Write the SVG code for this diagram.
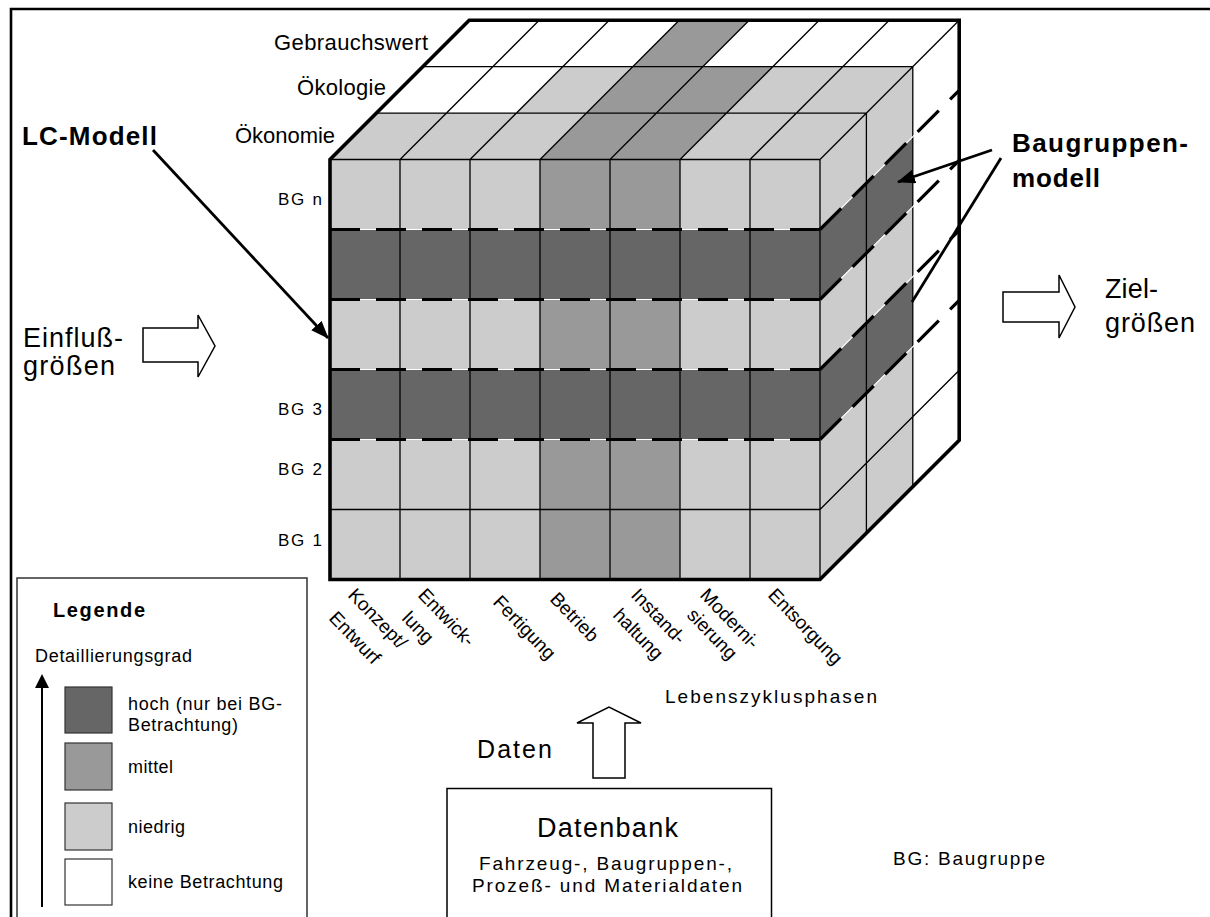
<svg xmlns="http://www.w3.org/2000/svg" width="1210" height="917" viewBox="0 0 1210 917">
  <style>
    .t { font-family: "Liberation Sans", Arial, Helvetica, sans-serif; fill: #000; }
    .b { font-weight: bold; }
    .thin { stroke: #000; stroke-width: 1.3; fill: none; }
    .dash { stroke: #000; stroke-width: 3.2; stroke-dasharray: 30 16; fill: none; }
    .gap { stroke: #fff; stroke-width: 1.2; fill: none; }
    .light { fill: #cccccc; }
    .mid { fill: #999999; }
    .dark { fill: #666666; }
    .white { fill: #ffffff; }
    .swatch { stroke: #333; stroke-width: 1.2; }
    .hollow { fill: #fff; stroke: #000; stroke-width: 1.5; stroke-linejoin: miter; }
    .ptr { stroke: #000; stroke-width: 2.8; fill: none; }
  </style>
  <defs>
    <marker id="head" markerUnits="userSpaceOnUse" markerWidth="18" markerHeight="14" viewBox="0 0 18 14" refX="17" refY="7" orient="auto">
      <path d="M0,0 L18,7 L0,14 z" fill="#000"/>
    </marker>
  </defs>

  <rect width="1210" height="917" fill="#fff"/>

  <!-- page frame -->
  <path d="M11,917 V9 H1210" fill="none" stroke="#000" stroke-width="2.6"/>

  <!-- the LC cube: front face = Ökonomie layer, two further layers behind -->
  <g id="cube">
    <!-- front face -->
    <rect class="light" x="330" y="159.5" width="490" height="420"/>
    <rect class="mid" x="540" y="159.5" width="140" height="420"/>
    <rect class="dark" x="330" y="229.5" width="490" height="70"/>
    <rect class="dark" x="330" y="369.5" width="490" height="70"/>

    <!-- top strip, Ökonomie -->
    <polygon class="light" points="330,159.5 540,159.5 586.4,113.1 376.4,113.1"/>
    <polygon class="mid" points="540,159.5 680,159.5 726.4,113.1 586.4,113.1"/>
    <polygon class="light" points="680,159.5 820,159.5 866.4,113.1 726.4,113.1"/>
    <!-- top strip, Ökologie -->
    <polygon class="white" points="376.4,113.1 516.4,113.1 562.8,66.7 422.8,66.7"/>
    <polygon class="light" points="516.4,113.1 586.4,113.1 632.8,66.7 562.8,66.7"/>
    <polygon class="mid" points="586.4,113.1 726.4,113.1 772.8,66.7 632.8,66.7"/>
    <polygon class="light" points="726.4,113.1 866.4,113.1 912.8,66.7 772.8,66.7"/>
    <!-- top strip, Gebrauchswert -->
    <polygon class="white" points="422.8,66.7 632.8,66.7 679.2,20.3 469.2,20.3"/>
    <polygon class="mid" points="632.8,66.7 702.8,66.7 749.2,20.3 679.2,20.3"/>
    <polygon class="white" points="702.8,66.7 912.8,66.7 959.2,20.3 749.2,20.3"/>

    <!-- side faces -->
    <polygon class="light" points="820,159.5 866.4,113.1 866.4,533.1 820,579.5"/>
    <polygon class="light" points="866.4,113.1 912.8,66.7 912.8,486.7 866.4,533.1"/>
    <polygon class="white" points="912.8,66.7 959.2,20.3 959.2,440.3 912.8,486.7"/>
    <polygon class="dark" points="820,229.5 912.8,136.7 912.8,206.7 820,299.5"/>
    <polygon class="dark" points="820,369.5 912.8,276.7 912.8,346.7 820,439.5"/>

    <!-- grid lines -->
    <path class="thin" d="M400,159.5 V579.5 M470,159.5 V579.5 M540,159.5 V579.5 M610,159.5 V579.5 M680,159.5 V579.5 M750,159.5 V579.5 M820,159.5 V579.5
      M330,159.5 H820 M330,509.5 H820
      M400,159.5 l139.2,-139.2 M470,159.5 l139.2,-139.2 M540,159.5 l139.2,-139.2 M610,159.5 l139.2,-139.2 M680,159.5 l139.2,-139.2 M750,159.5 l139.2,-139.2 M820,159.5 l139.2,-139.2
      M376.4,113.1 H866.4 M422.8,66.7 H912.8
      M866.4,113.1 V533.1 M912.8,66.7 V486.7
      M820,509.5 L959.2,370.3"/>

    <!-- BG band borders: white hairline under black dashes -->
    <path class="gap" d="M330,229.5 H820 L959.2,90.3 M330,299.5 H820 L959.2,160.3 M330,369.5 H820 L959.2,230.3 M330,439.5 H820 L959.2,300.3"/>
    <path class="dash" d="M330,229.5 H820 M330,299.5 H820 M330,369.5 H820 M330,439.5 H820"/>
    <path class="dash" d="M820,229.5 L959.2,90.3 M820,299.5 L959.2,160.3 M820,369.5 L959.2,230.3 M820,439.5 L959.2,300.3"/>

    <!-- outline -->
    <path d="M330,579.5 V159.5 L469.2,20.3 H959.2 V440.3 L820,579.5 Z" fill="none" stroke="#000" stroke-width="3.6" stroke-linejoin="miter"/>
  </g>

  <!-- axis labels -->
  <g id="layer-labels" class="t" font-size="22">
    <text x="274" y="50" textLength="154" lengthAdjust="spacing">Gebrauchswert</text>
    <text x="297" y="95" textLength="89" lengthAdjust="spacing">Ökologie</text>
    <text x="235" y="143" textLength="100" lengthAdjust="spacing">Ökonomie</text>
  </g>
  <g id="bg-labels" class="t" font-size="17">
    <text x="278" y="205" textLength="44" lengthAdjust="spacing">BG n</text>
    <text x="278" y="415" textLength="44" lengthAdjust="spacing">BG 3</text>
    <text x="278" y="475" textLength="44" lengthAdjust="spacing">BG 2</text>
    <text x="278" y="546" textLength="44" lengthAdjust="spacing">BG 1</text>
  </g>
  <g id="phase-labels" class="t" font-size="19">
    <text transform="translate(347,596) rotate(46)">Konzept/</text>
    <text transform="translate(328,619) rotate(46)">Entwurf</text>
    <text transform="translate(417,596) rotate(46)">Entwick-</text>
    <text transform="translate(401,619) rotate(46)">lung</text>
    <text transform="translate(492,603) rotate(46)">Fertigung</text>
    <text transform="translate(549,600) rotate(46)">Betrieb</text>
    <text transform="translate(630,596) rotate(46)">Instand-</text>
    <text transform="translate(612,616) rotate(46)">haltung</text>
    <text transform="translate(699,596) rotate(46)">Moderni-</text>
    <text transform="translate(686,616) rotate(46)">sierung</text>
    <text transform="translate(767,596) rotate(46)">Entsorgung</text>
    <text x="665" y="703" textLength="212" lengthAdjust="spacing">Lebenszyklusphasen</text>
  </g>

  <!-- callouts -->
  <g id="lc-modell">
    <text class="t b" font-size="26" x="22" y="145" textLength="135" lengthAdjust="spacing">LC-Modell</text>
  </g>
  <g id="baugruppenmodell">
    <text class="t b" font-size="26" x="1012" y="152" textLength="176" lengthAdjust="spacing">Baugruppen-</text>
    <text class="t b" font-size="26" x="1012" y="187" textLength="88" lengthAdjust="spacing">modell</text>
  </g>

  <!-- inputs / outputs -->
  <g id="einflussgroessen">
    <path class="hollow" d="M143,328 H198 V315 L215,346 L198,377 V362 H143 Z"/>
    <text class="t" font-size="27" x="23" y="347" textLength="100" lengthAdjust="spacing">Einfluß-</text>
    <text class="t" font-size="27" x="23" y="375" textLength="92" lengthAdjust="spacing">größen</text>
  </g>
  <g id="zielgroessen">
    <path class="hollow" d="M1003,292 H1059 V275 L1075,307 L1059,338 V322 H1003 Z"/>
    <text class="t" font-size="27" x="1105" y="298" textLength="53" lengthAdjust="spacing">Ziel-</text>
    <text class="t" font-size="27" x="1105" y="332" textLength="90" lengthAdjust="spacing">größen</text>
  </g>

  <!-- database -->
  <g id="datenbank">
    <path d="M447,917 V788.5 H771.5 V917" fill="#fff" stroke="#000" stroke-width="1.5"/>
    <text class="t" font-size="27" x="537" y="837" textLength="141" lengthAdjust="spacing">Datenbank</text>
    <text class="t" font-size="19" x="479" y="870" textLength="253" lengthAdjust="spacing">Fahrzeug-, Baugruppen-,</text>
    <text class="t" font-size="19" x="472" y="892" textLength="270" lengthAdjust="spacing">Prozeß- und Materialdaten</text>
  </g>
  <g id="daten">
    <path class="hollow" d="M593,778 V723 H577 L609,707 L641,723 H625 V778 Z"/>
    <text class="t" font-size="25" x="477" y="758" textLength="75" lengthAdjust="spacing">Daten</text>
  </g>

  <g id="abkuerzung">
    <text class="t" font-size="19" x="893" y="865" textLength="152" lengthAdjust="spacing">BG: Baugruppe</text>
  </g>

  <!-- legend -->
  <g id="legende">
    <path d="M17,917 V578 H307 V917" fill="#fff" stroke="#333" stroke-width="1.5"/>
    <text class="t b" font-size="20" x="53" y="617" textLength="92" lengthAdjust="spacing">Legende</text>
    <text class="t" font-size="18" x="35" y="662" textLength="157" lengthAdjust="spacing">Detaillierungsgrad</text>
    <line x1="42" y1="907" x2="42" y2="684" stroke="#000" stroke-width="2"/>
    <polygon points="42,674 49,688 35,688" fill="#000"/>
    <rect class="swatch dark" x="65" y="687" width="47" height="46"/>
    <rect class="swatch mid" x="65" y="743" width="47" height="47"/>
    <rect class="swatch light" x="65" y="803" width="47" height="47"/>
    <rect class="swatch white" x="65" y="859" width="47" height="46"/>
    <text class="t" font-size="18" x="128" y="710" textLength="154" lengthAdjust="spacing">hoch (nur bei BG-</text>
    <text class="t" font-size="18" x="128" y="731" textLength="110" lengthAdjust="spacing">Betrachtung)</text>
    <text class="t" font-size="18" x="128" y="773" textLength="45" lengthAdjust="spacing">mittel</text>
    <text class="t" font-size="18" x="128" y="833" textLength="57" lengthAdjust="spacing">niedrig</text>
    <text class="t" font-size="18" x="128" y="888" textLength="155" lengthAdjust="spacing">keine Betrachtung</text>
  </g>

  <!-- pointer lines -->
  <g id="connectors">
    <line class="ptr" x1="153" y1="150" x2="328" y2="338" marker-end="url(#head)"/>
    <line class="ptr" x1="992" y1="150" x2="898" y2="182" marker-end="url(#head)"/>
    <line class="ptr" x1="1001" y1="158" x2="912" y2="302"/>
  </g>
</svg>
